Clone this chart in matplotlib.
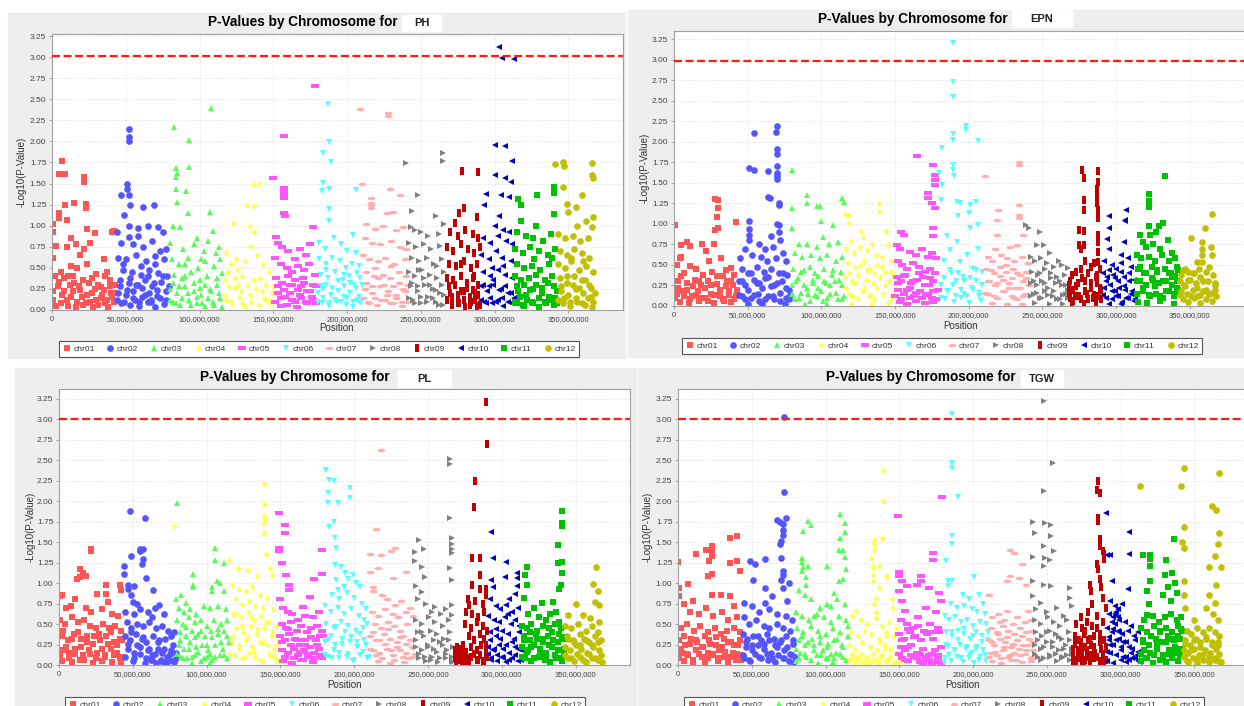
import numpy as np
import matplotlib
matplotlib.use('Agg')
from matplotlib import pyplot as plt
from matplotlib.patches import Rectangle
from matplotlib.lines import Line2D
from matplotlib.ticker import FuncFormatter, MultipleLocator

plt.rcParams['font.family'] = ['Liberation Sans', 'DejaVu Sans']

CHROMS = ['chr01', 'chr02', 'chr03', 'chr04', 'chr05', 'chr06',
          'chr07', 'chr08', 'chr09', 'chr10', 'chr11', 'chr12']
COLORS = ['#ff5555', '#5555ff', '#55ff55', '#ffff55', '#ff55ff', '#55ffff',
          '#ffafaf', '#808080', '#c00000', '#0000c0', '#00c000', '#c0c000']

# each entry: "position(Mb):-log10(P)*100"
PH = [
    "7:177 5:161 9:161 22:158 22:152 15:127 9:125 23:126 23:121 5:115 5:109 10:107 1:102 1:93 24:96 42:94 41:93 29:91 13:85 26:80 16:78 3:76 10:75 22:72 19:65 1:62 35:60 24:55 13:52 17:50 37:45 30:43 2:40 8:38 5:33 12:30 18:28 25:32 33:27 39:35 43:30 1:22 7:18 10:12 14:22 20:15 23:8 27:20 30:12 34:18 36:8 40:20 42:10 3:5 16:4 28:3 38:4 11:40 21:35 31:30",
    "52:215 52:205 52:201 51:150 51:143 47:136 52:137 53:125 62:122 69:124 49:113 52:100 44:93 58:97 65:100 72:99 75:92 58:88 52:87 47:80 55:78 62:75 68:82 73:70 77:72 45:62 50:60 57:65 64:58 70:55 76:60 48:48 54:45 60:42 66:48 72:44 78:40 46:35 52:32 58:30 63:35 68:28 74:33 45:20 50:18 55:22 61:15 66:20 71:17 77:22 47:8 53:6 59:5 65:9 70:4 76:7 56:12 67:10",
    "83:217 93:202 108:240 84:168 85:163 84:158 93:170 84:143 91:141 85:128 92:115 107:116 82:100 87:98 98:85 109:94 113:75 80:80 89:72 96:78 103:70 106:82 111:68 81:60 86:55 92:62 99:50 104:58 110:52 114:60 83:42 88:38 94:45 100:35 105:40 112:38 80:25 85:20 90:28 96:22 101:18 107:25 113:20 82:10 87:6 93:12 98:8 104:5 109:10 115:4",
    "136:148 140:150 132:124 137:123 134:100 137:92 135:76 123:103 118:68 121:55 126:48 129:40 131:58 139:65 143:55 147:45 117:35 120:28 124:38 128:22 133:30 138:25 141:38 145:30 149:20 118:12 122:8 127:15 131:5 135:10 140:6 144:14 148:8 119:45 125:60",
    "178:266 157:206 150:156 157:145 157:140 157:137 157:133 157:115 158:112 152:87 177:98 153:80 156:75 160:70 165:60 168:72 172:65 175:78 151:62 155:55 159:50 163:45 167:52 171:48 174:55 178:42 152:38 156:32 161:30 165:35 169:28 173:22 177:30 153:20 158:15 163:12 168:18 172:10 176:15 179:8 155:5 166:4",
    "187:244 188:199 184:186 189:175 184:151 183:141 188:144 206:142 188:120 188:105 204:89 206:68 181:80 185:72 191:85 196:78 200:70 181:60 186:55 190:62 195:58 199:50 203:55 208:52 182:42 187:38 192:45 197:35 201:40 205:30 209:38 180:20 184:25 189:18 194:22 198:15 202:20 207:12 183:8 188:5 193:10 199:6 204:4 209:8",
    "209:238 228:234 228:230 210:149 229:144 236:137 216:133 216:127 216:124 216:121 227:115 231:116 213:102 219:96 224:100 233:95 238:98 212:85 217:80 222:78 230:82 236:75 240:72 211:65 215:60 221:58 226:62 232:55 239:60 213:45 218:40 224:42 229:38 235:45 240:40 212:25 217:20 222:28 228:22 233:18 238:25 214:10 220:6 226:12 231:8 237:5 241:10",
    "240:174 265:186 265:177 248:136 244:117 260:112 266:102 243:98 246:95 250:92 255:88 262:90 242:80 247:75 252:78 257:72 263:76 244:62 249:58 254:62 259:55 264:60 242:45 246:40 251:48 256:42 261:38 266:45 243:28 248:22 253:30 258:25 263:20 245:12 250:8 255:15 260:10 265:6",
    "278:165 289:164 279:121 276:115 288:110 273:103 270:92 275:88 280:95 285:90 289:85 268:75 272:70 277:78 282:72 286:68 290:75 269:55 274:52 279:58 284:50 288:55 268:38 272:35 277:40 281:32 285:38 289:30 270:20 275:18 279:22 283:15 287:20 271:6 276:8 280:4 284:10 288:5",
    "303:312 305:299 313:298 300:196 307:195 312:177 300:160 307:157 311:152 294:138 304:136 310:134 293:124 303:111 300:100 306:95 310:92 292:85 297:80 302:88 308:82 312:78 291:65 296:60 301:70 305:62 311:58 292:45 297:40 302:48 307:42 312:38 291:28 295:22 299:30 304:25 309:20 293:10 298:8 302:12 306:5 311:8",
    "316:132 329:137 340:146 340:139 318:125 340:114 318:106 328:100 315:92 321:88 326:85 333:82 338:90 314:72 319:68 324:75 330:70 336:65 341:72 315:55 320:50 325:52 331:48 337:55 314:40 318:35 323:38 328:42 334:35 339:40 316:22 321:18 326:25 332:20 337:15 342:22 315:8 320:5 325:10 330:4 335:8 340:6",
    "341:173 346:176 347:171 366:174 366:160 367:156 359:136 346:146 349:126 355:122 350:116 362:105 367:110 356:100 366:99 343:90 348:85 353:88 358:82 363:85 344:70 349:65 354:72 359:68 364:62 343:55 348:50 352:58 357:48 362:52 367:45 344:38 349:32 354:40 359:35 364:30 345:22 350:18 355:25 360:20 365:15 346:8 351:5 356:10 361:6 366:4",
]
PH_LOW = [
    "1:12 4:28 6:8 8:22 11:5 13:15 15:32 17:10 19:24 21:6 24:18 26:10 29:25 31:6 33:14 35:24 37:12 39:28 41:16 43:20 6:45 14:40 27:38 36:40",
    "44:12 46:28 49:10 51:24 53:38 55:14 57:30 59:10 61:26 63:18 65:40 67:12 69:32 71:24 73:14 75:40 77:12 79:28 48:55 60:52 70:64",
    "80:12 82:32 84:8 86:28 88:14 90:40 92:20 94:6 96:32 98:16 100:26 102:8 104:30 106:14 108:22 110:6 112:30 114:14 115:44 90:55 101:60",
    "117:18 121:10 124:26 129:8 134:18 137:35 142:22 146:12 150:28 126:30",
    "151:10 153:28 155:14 157:24 159:6 161:20 163:30 165:10 167:24 169:14 171:32 173:8 175:22 177:12 179:28 160:40 170:38",
    "180:10 182:28 184:14 186:30 188:8 190:26 192:12 194:34 196:10 198:28 200:14 202:32 204:10 206:26 208:16 210:30 186:48 198:42 207:44",
    "211:14 213:32 215:8 217:28 219:14 221:38 223:12 225:30 227:18 229:8 231:28 233:14 235:32 237:10 239:22 241:30 219:50 230:52",
    "242:14 244:32 246:8 248:28 250:16 252:38 254:10 256:30 258:14 260:24 262:6 264:30 266:18 249:48 261:52",
    "268:12 269:28 271:16 273:30 275:8 277:22 279:12 281:26 283:6 285:24 287:12 289:18 290:6 277:55 286:40",
    "291:12 292:30 294:8 296:28 297:14 299:36 301:10 303:24 305:14 307:28 309:10 311:20 313:14 298:50 306:52",
    "314:10 315:28 317:16 319:6 320:30 322:12 324:24 326:8 328:30 330:14 332:26 334:10 336:32 338:12 340:28 341:14 342:8 327:60 339:62",
    "343:12 345:28 347:14 349:40 351:10 353:30 355:14 357:26 359:8 361:36 363:14 365:26 367:10 368:20 352:62 360:58",
]
EPN = [
    "1:99 28:130 30:129 30:119 29:109 28:93 30:95 42:102 27:76 4:58 5:60 5:74 9:78 11:73 19:76 22:67 24:55 32:58 39:46 11:49 2:50 15:45 35:44 7:40 20:38 26:42 33:36 41:38 3:30 9:28 14:32 18:25 23:30 29:27 36:30 40:25 2:15 6:18 12:12 16:18 21:10 25:15 31:12 37:18 42:12 4:5 10:4 17:6 27:4 34:6 39:5",
    "54:211 70:219 69:212 70:191 70:185 51:168 54:166 64:164 70:171 70:162 70:158 70:155 64:133 65:131 71:125 71:123 51:103 70:100 71:99 51:94 51:86 51:80 66:85 71:90 72:80 58:75 48:70 62:70 67:72 74:65 45:58 53:62 59:60 63:55 69:58 76:55 46:45 50:40 56:48 61:42 66:45 71:40 77:38 44:30 48:25 54:32 58:28 64:35 68:25 73:30 78:20 46:12 52:10 57:15 62:8 67:12 72:6 76:10 50:3 60:2 75:2",
    "80:166 80:119 80:95 90:135 90:125 97:122 99:122 100:104 114:131 115:127 108:99 101:84 85:76 90:76 97:72 105:75 111:78 82:65 87:60 93:62 99:58 104:62 110:55 114:60 81:45 86:42 92:48 96:40 102:45 107:38 113:42 83:30 88:25 94:32 98:22 103:28 109:30 114:25 80:15 85:10 91:15 97:12 101:6 106:15 111:8 115:12 89:3 104:2",
    "116:112 118:111 119:101 139:126 139:116 127:91 128:84 120:79 134:76 144:91 145:74 117:70 122:65 126:72 131:68 137:62 141:60 147:55 118:52 123:48 129:55 133:45 138:50 143:42 148:40 116:35 121:30 125:38 130:32 135:28 140:35 146:30 150:25 119:15 124:10 128:18 132:12 136:8 142:15 147:10 120:3 134:2 145:4",
    "165:183 176:172 177:160 177:154 177:148 172:138 172:132 175:125 177:119 176:95 176:85 154:90 156:87 151:74 153:70 160:66 164:62 168:70 172:60 175:65 178:58 152:55 155:50 158:45 162:52 166:48 170:42 174:45 177:40 151:35 154:30 157:38 161:28 165:32 169:35 173:25 176:30 152:20 156:15 160:22 163:12 167:18 171:15 175:10 179:20 153:5 158:3 164:6 170:4 176:5",
    "189:320 189:273 189:255 189:210 189:202 182:192 198:219 198:214 206:201 189:172 189:166 190:158 180:162 182:147 181:129 192:127 194:125 201:123 205:127 200:113 193:110 206:99 201:95 192:78 199:62 194:54 206:70 185:85 187:68 183:55 203:45 188:40 196:35 205:30 209:42 181:25 186:18 191:30 197:15 202:22 207:12 184:8 190:5 195:10 200:4 208:6",
    "234:176 234:172 211:158 220:117 219:105 234:123 234:111 234:107 219:87 237:87 218:69 228:72 233:74 213:60 216:55 222:62 226:58 231:55 236:60 240:52 212:45 217:40 221:48 225:42 230:45 235:38 239:42 214:30 218:25 223:32 227:28 232:22 237:30 241:25 213:15 219:10 224:18 229:12 233:8 238:15 216:4 226:3 236:2",
    "239:99 241:95 248:90 246:74 251:74 255:64 263:50 267:46 242:60 245:55 249:58 253:52 258:48 261:55 243:42 247:38 252:45 256:40 260:35 265:38 242:28 246:25 250:30 254:22 259:28 263:25 267:20 244:15 248:10 252:18 257:12 262:8 266:15 245:4 255:3 264:2",
    "277:166 278:156 288:164 288:151 278:129 278:117 287:143 287:138 287:131 287:125 288:117 288:107 275:93 278:91 275:74 276:70 278:74 288:87 288:78 288:66 288:54 279:55 283:48 285:52 270:38 273:42 276:45 281:40 286:35 289:45 268:25 271:20 274:28 279:30 283:22 287:28 290:20 269:10 272:12 276:8 280:15 284:10 288:12 270:3 278:2 286:4",
    "295:110 307:117 306:105 306:103 295:95 294:82 295:70 305:78 303:62 308:58 292:55 297:50 300:45 303:52 310:48 291:40 294:35 298:38 301:30 305:35 309:40 312:32 292:22 296:25 299:18 302:22 306:20 310:15 293:10 297:8 300:12 304:5 308:10 312:6 295:3 303:2",
    "333:158 322:137 322:128 322:121 316:86 322:97 332:101 329:98 323:87 327:90 318:78 320:72 325:75 330:70 335:80 338:65 314:62 317:58 322:60 326:55 331:62 336:55 340:58 315:45 319:40 324:48 328:42 333:45 337:40 341:48 316:30 320:25 325:32 329:28 334:30 338:35 341:30 314:15 318:18 323:12 327:15 332:10 336:18 340:15 342:20 315:5 321:4 330:6 339:3",
    "365:112 360:95 351:83 358:78 358:70 358:62 358:54 364:72 365:62 355:54 349:42 344:38 347:45 352:40 356:45 361:42 366:38 343:30 346:25 350:32 354:28 357:35 362:30 367:25 344:18 348:15 352:20 355:12 359:18 363:15 367:20 345:8 349:5 353:10 357:4 361:8 365:6",
]
EPN_LOW = [
    "1:10 3:22 5:36 7:12 9:20 11:8 13:24 15:14 17:30 19:10 21:22 23:6 25:26 27:14 29:36 31:20 33:8 35:24 37:14 39:30 41:8 43:20",
    "44:14 46:30 48:8 50:20 52:40 54:14 56:28 58:6 60:22 62:34 64:12 66:24 68:8 70:28 72:16 74:40 76:22 78:8 79:14",
    "80:26 82:8 84:34 86:16 88:44 90:22 92:6 94:28 96:14 98:36 100:18 102:30 104:10 106:26 108:44 110:16 112:32 114:8",
    "117:22 119:40 121:12 123:28 126:50 129:22 131:44 133:14 136:40 138:22 141:48 143:26 147:42 149:14",
    "150:12 152:28 154:8 156:36 158:20 160:10 162:30 164:16 166:40 168:10 170:26 172:14 174:34 176:18 178:8",
    "181:10 183:34 185:18 187:44 189:26 191:12 193:40 195:20 197:30 199:12 201:34 203:20 205:44 207:16 209:26",
    "211:16 213:30 215:44 217:12 219:28 221:36 223:18 225:50 227:22 229:34 231:10 233:40 235:22 237:12 239:34 241:14",
    "242:12 244:30 246:16 248:40 250:10 252:28 254:14 256:34 258:18 260:8 262:30 264:14 266:26 267:10",
    "268:16 269:30 271:6 273:24 275:12 277:34 279:18 281:8 283:28 285:14 287:38 289:22 290:8",
    "291:14 293:30 295:44 297:18 299:34 301:12 303:42 305:24 307:10 309:30 311:18 313:8",
    "314:30 316:48 318:22 320:40 322:14 324:34 326:24 328:44 330:12 332:30 334:18 336:40 338:26 339:12 340:36 341:22 342:44",
    "343:14 345:44 347:24 349:32 351:12 353:40 355:22 357:14 359:30 361:20 363:48 365:16 367:28 368:12",
]
PL = [
    "22:142 22:139 14:117 16:112 14:108 18:109 12:105 2:85 1:84 32:98 32:87 42:91 41:98 33:77 26:87 5:70 8:72 11:80 18:70 22:65 29:68 36:62 40:60 1:55 4:50 9:58 13:52 17:55 21:48 25:45 30:50 34:45 38:48 42:42 2:35 6:30 10:38 15:32 19:28 24:35 28:30 32:35 37:28 41:32 3:18 7:15 11:20 16:12 20:18 26:15 31:12 35:20 39:15 43:10 2:5 9:4 14:6 23:3 29:5 36:4 42:3",
    "48:188 58:179 55:142 55:139 57:142 57:130 56:123 49:133 44:121 44:111 59:106 47:98 47:93 51:97 49:85 50:77 53:75 64:91 68:73 65:70 45:65 51:62 55:68 60:65 63:58 71:62 46:52 49:45 53:50 57:48 61:52 66:45 70:48 74:42 78:40 45:35 48:30 52:38 56:32 59:28 64:35 68:30 72:32 76:35 47:20 51:15 55:22 60:18 63:12 67:20 70:15 73:10 76:18 79:15 50:5 58:3 62:6 66:2 69:5 72:3 75:6 78:4",
    "80:198 106:143 106:128 112:125 91:111 91:98 91:95 79:81 83:85 86:76 104:95 104:90 107:102 109:100 112:90 81:70 85:65 89:68 93:62 98:72 102:70 108:72 113:68 80:55 84:50 88:58 92:52 96:55 100:48 105:55 110:50 114:55 82:40 86:35 90:42 94:38 99:35 103:42 108:38 112:42 81:25 85:20 89:28 93:22 97:25 101:18 106:25 111:20 115:28 83:10 87:8 92:12 96:5 100:10 104:6 109:12 114:8 90:2 102:3",
    "78:170 139:221 139:197 139:182 139:178 139:173 139:161 140:136 115:128 121:118 128:116 143:119 144:110 134:109 117:98 122:93 127:90 131:95 136:85 141:82 119:80 124:75 129:78 133:72 138:70 145:68 118:62 123:58 128:65 132:55 137:60 142:52 147:48 120:45 125:40 130:48 134:38 139:45 144:40 149:35 117:28 122:25 127:30 131:22 136:28 141:25 146:20 119:12 124:8 129:15 133:10 138:5 143:12 148:6",
    "149:186 153:171 153:161 149:143 149:139 154:110 156:98 156:91 151:124 178:141 178:111 173:105 170:83 165:71 150:80 152:70 155:65 158:62 162:55 167:60 172:58 176:65 151:50 154:45 157:52 161:42 164:48 168:40 171:45 175:48 178:42 150:35 153:30 156:38 160:32 163:25 167:30 170:22 174:30 177:35 151:18 155:15 159:20 162:12 166:18 169:10 173:15 176:20 152:5 158:3 164:6 172:4 178:8",
    "181:238 183:226 186:225 182:210 182:198 189:198 186:175 183:169 197:216 197:204 187:155 188:143 187:122 188:104 189:91 191:120 194:112 196:105 193:95 199:110 201:100 204:95 185:85 190:80 195:88 200:82 205:75 208:68 180:72 184:65 189:70 193:62 198:68 203:60 207:55 181:50 186:45 191:52 196:48 201:42 206:45 209:50 182:30 187:25 192:32 197:28 202:22 207:30 180:12 185:8 190:15 195:10 199:5 204:12 209:8",
    "218:263 215:166 228:143 225:139 211:135 218:134 216:118 211:114 226:106 235:114 213:95 213:90 219:85 228:73 222:80 232:78 238:70 212:65 216:60 221:68 226:62 230:58 235:65 240:60 214:50 218:45 223:52 227:48 231:42 236:50 211:35 215:30 220:38 224:32 229:28 233:35 238:30 213:18 217:15 222:20 226:12 231:18 235:15 239:10 216:5 224:3 234:4",
    "265:252 265:246 265:180 266:155 266:148 266:142 266:137 265:119 266:104 244:153 247:142 241:138 246:120 248:108 241:127 242:96 246:89 255:71 266:73 266:61 243:80 249:75 253:65 259:62 262:68 242:55 246:50 251:58 255:52 260:48 264:55 243:40 247:35 252:42 256:38 261:32 265:40 242:22 246:18 250:25 254:20 258:28 263:18 267:22 244:8 249:5 253:10 257:4 262:8 266:5",
    "289:321 290:270 282:225 281:193 280:131 285:131 285:110 280:98 285:93 289:93 277:81 278:73 282:78 287:75 289:85 276:65 280:62 284:58 288:65 275:50 279:45 283:52 287:48 290:42 278:35 281:30 285:38 288:32 268:18 270:12 272:20 274:15 276:10 279:22 283:18 286:25 289:15 269:5 271:8 273:3 275:6 278:4 284:6 288:5",
    "293:162 294:131 303:126 293:104 294:95 302:107 310:112 310:106 309:87 310:97 305:81 303:73 292:80 296:72 299:68 307:65 311:70 291:60 295:55 298:52 302:58 306:50 309:55 312:48 292:40 296:35 300:42 304:38 308:32 312:40 291:22 294:18 298:25 301:20 305:15 309:22 313:18 293:8 297:5 300:10 303:4 307:8 311:5",
    "341:188 341:173 341:170 338:147 338:125 341:126 339:93 341:112 317:120 316:110 317:98 327:76 335:77 340:98 337:65 315:82 322:70 318:62 325:58 330:55 333:62 339:52 314:48 317:45 320:50 324:42 328:48 332:45 336:50 340:45 315:35 319:30 323:38 327:32 331:35 335:30 339:38 342:32 314:22 318:18 322:25 326:20 330:15 334:22 338:18 342:20 316:8 320:5 325:10 329:6 333:4 337:8 341:5",
    "364:120 362:99 365:90 363:77 366:73 350:75 345:61 355:61 360:57 366:52 343:48 347:45 352:50 357:42 361:48 365:40 344:35 348:30 353:38 356:32 359:28 363:35 367:30 343:22 346:18 350:25 354:20 358:15 362:22 366:18 345:8 349:5 353:10 357:4 361:8 365:6",
]
PL_LOW = [
    "1:12 3:42 5:22 7:8 9:32 11:14 13:40 15:22 17:6 19:36 21:14 23:26 25:8 27:38 29:20 31:10 33:26 35:40 37:12 39:24 41:8 43:30",
    "45:10 47:26 49:40 51:8 53:24 55:14 57:34 59:8 61:20 63:6 65:14 67:28 69:6 71:20 73:4 75:14 77:24 79:8",
    "80:14 82:30 84:8 86:46 88:20 90:10 92:34 94:16 96:42 98:8 100:24 102:14 104:34 106:10 108:44 110:28 112:12 114:36",
    "116:14 118:36 120:62 122:20 124:48 126:10 128:34 130:58 132:16 134:44 136:6 138:28 140:52 142:14 144:36 146:10 148:26 150:4",
    "151:28 153:10 155:44 157:24 159:8 161:30 163:16 165:6 167:24 169:14 171:34 173:8 175:24 177:12 179:36",
    "180:28 182:10 184:36 186:18 188:46 190:8 192:26 194:40 196:14 198:34 200:6 202:28 204:38 206:16 208:24 210:10",
    "211:20 213:40 215:12 217:30 219:8 221:26 223:44 225:18 227:6 229:22 231:34 233:10 235:26 237:8 239:22 241:14",
    "242:30 244:14 246:40 248:10 250:22 252:6 254:30 256:16 258:8 260:24 262:14 264:30 266:10 267:4",
    "268:10 269:4 270:22 271:14 272:6 273:12 274:24 275:4 276:16 277:8 279:10 281:14 283:6 285:12 287:4 289:24 290:10",
    "291:14 292:30 293:6 295:20 297:12 299:32 301:8 303:24 305:6 307:28 309:12 311:20 313:6 296:44 304:62",
    "314:10 315:30 317:16 319:40 320:22 322:8 324:32 326:14 328:28 330:8 332:24 334:40 336:12 338:28 340:8 341:34 342:14",
    "343:12 345:32 347:8 349:28 351:14 353:24 355:6 357:30 359:14 361:24 363:8 365:28 367:12 368:4",
]
TGW = [
    "0:126 1:94 1:84 7:99 12:135 19:140 23:145 23:140 23:133 21:127 20:109 23:111 35:155 40:157 40:127 42:115 35:124 23:85 29:85 35:84 38:72 10:78 4:75 8:65 14:62 19:70 24:60 30:65 34:55 40:58 2:45 6:50 11:42 15:48 20:40 25:45 29:38 33:42 38:45 42:40 1:30 5:25 9:32 13:28 17:22 21:30 26:25 31:32 36:28 41:25 3:15 7:12 12:18 16:10 20:15 24:12 28:18 32:10 37:15 42:12 4:5 10:3 18:4 27:5 34:3 39:6",
    "72:303 72:211 67:177 69:175 73:179 71:172 71:165 71:159 70:152 69:148 70:131 71:115 71:110 71:94 49:127 52:123 59:129 59:94 51:104 70:104 75:100 64:84 59:76 74:78 45:76 50:72 55:65 62:68 67:62 73:60 77:55 45:58 48:50 53:55 58:48 62:45 67:50 71:45 76:42 44:38 47:32 51:35 56:30 60:38 65:32 69:28 73:35 78:30 46:22 50:18 54:25 58:20 63:15 67:22 72:18 77:12 45:8 49:5 55:10 61:6 66:4 71:8 75:5 78:3",
    "88:176 90:171 85:164 84:131 84:126 85:120 84:115 88:121 87:107 87:98 110:184 113:173 113:162 110:155 112:141 109:141 113:132 114:117 109:102 112:105 101:121 106:88 101:75 92:60 82:92 86:85 90:80 96:70 104:72 108:80 113:75 80:65 84:60 89:55 94:62 99:58 104:52 109:60 114:55 81:45 85:40 90:48 95:42 100:38 105:45 110:40 115:48 82:30 86:25 91:32 96:28 101:22 106:30 111:25 115:35 83:15 87:10 92:18 97:12 102:8 107:15 112:10 80:5 95:3 105:4",
    "139:238 139:200 138:155 133:153 133:148 133:140 131:131 132:122 132:118 136:121 132:110 132:102 141:109 142:107 136:94 134:82 133:75 134:65 134:57 145:80 146:70 121:66 118:60 124:55 128:50 138:48 143:52 148:45 117:40 122:35 127:42 131:38 136:32 141:40 146:35 150:30 116:25 120:20 125:28 130:22 135:18 140:25 144:20 149:15 117:8 119:5 121:10 124:4 127:8 129:3 132:6 135:4 137:10 140:5 143:8 147:4",
    "149:182 150:113 150:109 152:102 150:90 155:96 152:78 154:66 179:205 177:88 178:78 173:137 173:128 165:109 165:102 162:98 170:94 163:59 168:70 175:65 151:55 155:50 159:45 163:48 167:42 171:50 176:45 150:38 153:32 157:40 161:35 165:30 169:38 173:32 177:40 151:22 154:18 158:25 162:15 166:20 170:12 174:18 178:22 152:8 156:5 160:10 164:4 168:6 172:3 176:8 179:5",
    "186:306 186:247 186:241 190:205 186:157 186:148 182:127 183:102 186:102 201:107 183:96 193:85 197:80 204:85 207:75 185:75 189:70 194:72 199:68 203:65 208:62 181:60 184:55 188:58 192:52 196:55 200:48 205:52 209:50 182:40 186:35 190:42 194:38 198:32 202:40 206:35 210:30 183:22 187:18 191:25 195:20 199:15 203:22 207:18 181:8 185:5 189:10 193:4 197:8 201:3 205:10 209:5",
    "225:141 228:137 233:123 225:109 223:102 211:86 231:106 236:98 217:62 223:66 237:66 213:58 218:52 221:55 227:50 230:58 235:52 239:55 212:45 216:40 220:48 224:42 228:38 232:45 236:40 240:42 211:30 214:25 218:32 222:28 226:22 230:30 234:25 238:32 241:28 212:15 216:12 220:18 224:10 228:15 232:12 236:18 240:10 213:5 219:3 226:6 233:4 239:5",
    "248:322 254:247 248:213 241:175 249:173 253:171 242:161 253:158 248:145 255:139 249:131 252:128 248:121 241:132 241:102 248:98 253:96 266:94 266:82 241:84 246:76 267:72 243:68 250:65 257:70 262:60 242:55 246:50 251:58 255:52 259:48 264:55 243:40 247:35 252:42 256:38 260:32 265:40 242:25 246:20 250:28 254:22 258:18 263:25 267:20 244:10 248:8 252:12 257:5 261:10 266:6",
    "285:225 284:214 286:210 285:180 285:176 286:154 286:145 288:139 289:135 289:129 284:123 285:117 279:98 280:90 281:74 286:105 287:95 273:59 276:41 288:82 290:70 284:60 278:65 270:50 274:45 277:52 281:48 284:45 288:52 269:35 272:30 275:38 279:32 282:35 286:38 289:30 268:20 271:15 274:22 277:18 280:25 283:15 287:20 290:22 268:5 270:3 272:8 274:4 276:6 279:3 282:8 286:5 289:4",
    "290:185 293:134 291:134 306:162 306:135 294:102 305:93 301:75 293:78 296:72 298:68 292:62 295:58 297:65 299:55 303:52 307:48 291:45 294:40 296:50 298:42 301:38 305:42 309:35 312:40 292:30 295:25 299:32 302:28 306:22 310:30 293:15 297:12 300:18 304:10 307:15 311:12 291:5 295:3 300:6 304:4 308:8 312:5",
    "336:154 315:134 320:134 320:129 320:121 331:128 330:110 335:112 320:102 318:90 337:100 319:74 318:61 332:95 338:88 329:85 334:78 316:55 322:60 326:52 330:58 334:62 338:55 341:58 314:45 318:40 323:48 327:42 331:45 335:40 339:48 342:42 315:30 319:25 324:32 328:28 332:35 336:30 340:32 316:18 320:15 325:20 329:12 333:18 337:15 341:20 314:5 318:8 322:3 327:6 331:4 335:8 339:5",
    "343:240 313:218 341:218 367:234 343:168 342:150 343:143 362:194 365:189 367:161 366:148 364:133 360:120 368:120 343:102 365:98 360:85 364:76 343:85 344:70 358:70 350:55 363:62 366:55 345:42 348:38 352:45 356:40 360:45 364:40 367:35 344:30 347:25 351:32 354:28 358:32 362:28 366:25 343:18 346:15 350:20 353:12 357:18 361:15 365:20 345:5 349:8 352:3 356:6 360:4 364:8 367:5",
]
TGW_LOW = [
    "1:8 2:20 4:36 6:14 8:26 10:6 12:30 14:14 16:22 18:36 20:8 22:26 24:14 26:34 28:8 30:22 32:16 34:28 36:10 38:24 40:14 42:30 43:6",
    "44:12 46:28 48:6 50:24 52:14 54:36 56:8 58:26 60:14 62:30 64:8 66:24 68:12 70:30 72:8 74:22 76:14 78:26 79:10",
    "80:20 82:8 84:36 86:14 88:28 90:6 92:24 94:12 96:36 98:18 100:8 102:26 104:14 106:8 108:32 110:14 112:22 114:6",
    "116:6 118:14 120:3 122:8 124:14 126:3 128:10 130:4 132:14 134:6 136:3 138:12 140:20 142:4 144:10 146:2 148:14 150:4 137:28 141:36",
    "150:14 152:30 154:6 156:22 158:12 160:34 162:8 164:14 166:3 168:10 170:6 172:14 174:4 176:12 178:3 156:44 172:40",
    "180:4 182:24 184:12 186:40 188:18 190:30 192:8 194:44 196:22 198:12 200:36 202:20 204:6 206:28 208:12 210:40",
    "211:10 213:28 215:16 217:38 219:8 221:22 223:34 225:12 227:26 229:6 231:20 233:36 235:14 237:24 239:8 241:18",
    "242:14 244:30 246:6 248:22 250:40 252:10 254:28 256:14 258:34 260:8 262:20 264:12 266:30 267:14",
    "268:12 269:26 270:6 271:18 272:10 273:28 274:14 275:4 276:22 277:10 278:30 280:12 282:22 284:10 286:28 288:14 290:6",
    "291:16 292:34 293:24 294:52 295:44 296:62 297:30 298:58 299:40 300:22 302:10 304:28 306:6 308:20 310:8 312:16 313:4",
    "314:14 315:28 317:8 319:24 321:36 323:12 325:26 327:40 329:10 331:28 333:14 335:32 337:22 339:36 340:12 341:44 342:18",
    "343:10 344:26 346:4 348:18 350:30 352:8 354:22 356:14 358:34 360:10 362:24 364:6 366:28 367:14 368:4",
]
TRAITS = ['PH', 'EPN', 'PL', 'TGW']
SERIES = [(PH, PH_LOW), (EPN, EPN_LOW), (PL, PL_LOW), (TGW, TGW_LOW)]
THRESHOLDS = [3.01, 2.98, 3.0, 3.0]

W, H = 1244, 706

# marker shapes in the JFreeChart default order
t = np.linspace(0, 2 * np.pi, 24, endpoint=False)
ELLIPSE = list(zip(np.cos(t), 0.45 * np.sin(t)))
HRECT = [(-1, -0.45), (1, -0.45), (1, 0.45), (-1, 0.45), (-1, -0.45)]
VRECT = [(-0.45, -1), (0.45, -1), (0.45, 1), (-0.45, 1), (-0.45, -1)]
DIAMOND = [(0, 1), (0.8, 0), (0, -1), (-0.8, 0), (0, 1)]
MARKERS = ['s', 'o', '^', DIAMOND, HRECT, 'v', ELLIPSE, '>', VRECT, '<', 's', 'o']
MSIZES = [4.5, 4.8, 5.0, 5.0, 5.6, 5.0, 5.6, 5.0, 5.6, 5.0, 4.5, 4.8]

# panel layouts in pixels (x0, y0, x1, y1), y measured from the top
PANELS = [
    dict(bg=(8, 13, 625, 358), ax=(52, 34, 623, 310), xmax=387, ytop=3.274,
         title=(398, 22), box=(402, 15, 441, 31), ylab=(22, 172), xlab=(337, 328), leg=(319, 349)),
    dict(bg=(628, 10, 1244, 357), ax=(674, 31, 1245, 306), xmax=387.4, ytop=3.35,
         title=(1008, 19), box=(1012, 10, 1072, 27), ylab=(645, 168), xlab=(961, 326), leg=(942, 346)),
    dict(bg=(15, 368, 636, 706), ax=(59, 389, 630, 665), xmax=386.9, ytop=3.37,
         title=(390, 377), box=(398, 370, 451, 387), ylab=(31, 527), xlab=(345, 685), leg=(325, 705)),
    dict(bg=(638, 368, 1244, 706), ax=(678, 389, 1245, 665), xmax=384.4, ytop=3.37,
         title=(1016, 377), box=(1021, 370, 1063, 387), ylab=(648, 527), xlab=(963, 685), leg=(944, 705)),
]


def parse(*strings):
    pairs = [p.split(':') for s in strings for p in s.split()]
    xs = np.array([float(a) for a, b in pairs]) * 1e6
    ys = np.array([float(b) for a, b in pairs]) / 100.0
    return xs, ys


def fx(x):
    return x / W


def fy(y):
    return 1 - y / H


fig = plt.figure(figsize=(W / 100, H / 100), dpi=100)
fig.patch.set_facecolor('white')

handles = [Line2D([], [], linestyle='none', marker=m, markersize=ms, color=c, markeredgewidth=0)
           for m, ms, c in zip(MARKERS, MSIZES, COLORS)]

for trait, (data, low), thr, p in zip(TRAITS, SERIES, THRESHOLDS, PANELS):
    x0, y0, x1, y1 = p['bg']
    fig.patches.append(Rectangle((fx(x0), fy(y1)), (x1 - x0) / W, (y1 - y0) / H,
                                 transform=fig.transFigure, color='#eeeeee', zorder=-2))
    bx0, by0, bx1, by1 = p['box']
    fig.patches.append(Rectangle((fx(bx0), fy(by1)), (bx1 - bx0) / W, (by1 - by0) / H,
                                 transform=fig.transFigure, color='white', zorder=-1))
    fig.text(fx((bx0 + bx1) / 2), fy((by0 + by1) / 2), trait, ha='center', va='center',
             fontsize=8, fontweight='bold', color='#222222')
    fig.text(fx(p['title'][0]), fy(p['title'][1]), 'P-Values by Chromosome for',
             ha='right', va='center', fontsize=9.8, fontweight='bold')

    ax0, ay0, ax1, ay1 = p['ax']
    ax = fig.add_axes([fx(ax0), fy(ay1), (ax1 - ax0) / W, (ay1 - ay0) / H])
    ax.set_facecolor('white')
    for i in range(len(CHROMS)):
        xs, ys = parse(low[i], data[i])
        ax.plot(xs, ys, linestyle='none', marker=MARKERS[i], markersize=MSIZES[i],
                color=COLORS[i], markeredgewidth=0, zorder=2 + i * 0.01)
    ax.axhline(thr, color='#ff1a1a', linewidth=1.6, linestyle=(0, (3.6, 1.6)), zorder=5)

    ax.set_xlim(0, p['xmax'] * 1e6)
    ax.set_ylim(0, p['ytop'])
    ax.xaxis.set_major_locator(MultipleLocator(50e6))
    ax.xaxis.set_major_formatter(FuncFormatter(lambda v, pos: f'{int(round(v)):,}'))
    ax.yaxis.set_major_formatter(FuncFormatter(lambda v, pos: f'{v:.2f}'))
    ax.set_yticks(np.arange(0, 3.26, 0.25))
    ax.tick_params(labelcolor='#444444', length=2, width=0.5, color='#888888', pad=2)
    ax.tick_params(axis='x', labelsize=5.5)
    ax.tick_params(axis='y', labelsize=6)
    ax.grid(True, color='#cccccc', linewidth=0.5, linestyle=(0, (1, 2)))
    ax.set_axisbelow(True)
    for sp in ax.spines.values():
        sp.set_color('#a0a0a0')
        sp.set_linewidth(0.8)

    fig.text(fx(p['ylab'][0]), fy(p['ylab'][1]), '-Log10(P-Value)', rotation=90,
             ha='center', va='center', fontsize=7, color='#333333')
    fig.text(fx(p['xlab'][0]), fy(p['xlab'][1]), 'Position', ha='center', va='center',
             fontsize=7, color='#333333')

    leg = fig.legend(handles, CHROMS, loc='center', bbox_to_anchor=(fx(p['leg'][0]), fy(p['leg'][1])),
                     ncol=12, fontsize=6, frameon=True, fancybox=False, edgecolor='#555555',
                     handlelength=1.0, handletextpad=0.3, columnspacing=1.4, borderpad=0.45,
                     framealpha=1)
    leg.get_frame().set_linewidth(0.8)
    for txt in leg.get_texts():
        txt.set_color('#333333')

fig.savefig('out.png', dpi=100)
